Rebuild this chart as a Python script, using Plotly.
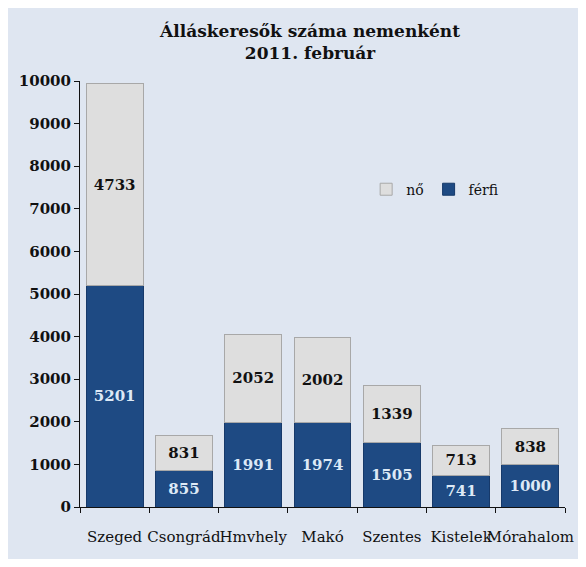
import plotly.graph_objects as go

telepulesek = ["Szeged", "Csongrád", "Hmvhely", "Makó", "Szentes", "Kistelek", "Mórahalom"]
ferfi = [5201, 855, 1991, 1974, 1505, 741, 1000]
no = [4733, 831, 2052, 2002, 1339, 713, 838]
y_ticks = [0, 1000, 2000, 3000, 4000, 5000, 6000, 7000, 8000, 9000, 10000]

serif = "DejaVu Serif, serif"
bg = "#dfe6f1"

fig = go.Figure()

fig.add_trace(go.Bar(
    x=telepulesek,
    y=ferfi,
    name="férfi",
    text=ferfi,
    textposition="inside",
    insidetextanchor="middle",
    textfont=dict(family=serif, size=15, color="#dde9f6", weight="bold"),
    marker=dict(color="#1e4a83", line=dict(color="#16396a", width=1))
))

fig.add_trace(go.Bar(
    x=telepulesek,
    y=no,
    name="nő",
    text=no,
    textposition="inside",
    insidetextanchor="middle",
    textfont=dict(family=serif, size=15, color="#111111", weight="bold"),
    marker=dict(color="#dedede", line=dict(color="#a8a8a8", width=1))
))

fig.update_layout(
    width=570,
    height=551,
    barmode="stack",
    bargap=0.18,
    paper_bgcolor=bg,
    plot_bgcolor=bg,
    margin=dict(l=72, r=13, t=73, b=52, autoexpand=False),
    title=dict(
        text="Álláskeresők száma nemenként<br>2011. február",
        x=0.53, xanchor="center",
        y=0.948, yanchor="top",
        font=dict(family=serif, size=17, color="#111111", weight="bold")
    ),
    font=dict(family=serif, color="#111111"),
    uniformtext=dict(mode="show", minsize=10),
    legend=dict(
        orientation="h",
        traceorder="reversed",
        x=0.59, y=0.745,
        xanchor="left", yanchor="middle",
        bgcolor="rgba(0,0,0,0)",
        font=dict(family=serif, size=14)
    ),
    showlegend=True
)

fig.update_yaxes(
    range=[0, 10000],
    tickvals=y_ticks,
    ticktext=[str(v) for v in y_ticks],
    automargin=False,
    showgrid=False,
    zeroline=False,
    showline=True,
    linecolor="#111111",
    linewidth=1,
    ticks="outside",
    ticklen=5,
    tickcolor="#111111",
    tickfont=dict(family=serif, size=15, weight="bold")
)

fig.update_xaxes(
    automargin=False,
    tickangle=0,
    showgrid=False,
    showline=True,
    linecolor="#111111",
    linewidth=1,
    ticks="outside",
    tickson="boundaries",
    ticklen=5,
    tickcolor="#111111",
    ticklabelstandoff=16,
    tickfont=dict(family=serif, size=15)
)

fig.write_html("out.html")
